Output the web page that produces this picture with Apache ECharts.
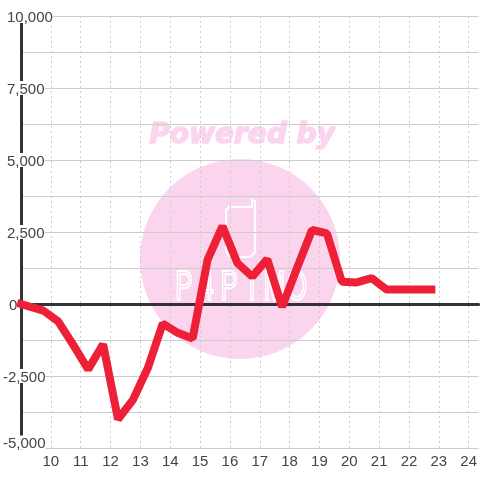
<!DOCTYPE html>
<html>
<head>
<meta charset="utf-8">
<style>
  html, body { margin: 0; padding: 0; background: #fff; }
  #main { width: 480px; height: 480px; }
</style>
<script src="https://cdn.jsdelivr.net/npm/echarts@6/dist/echarts.min.js"></script>
</head>
<body>
<div id="main"></div>
<script>
const hours = [9, 9.75, 10.25, 10.75, 11.25, 11.75, 12.25, 12.75, 13.25, 13.75, 14.25, 14.75, 15.25, 15.75,
  16.25, 16.75, 17.25, 17.75, 18.25, 18.75, 19.25, 19.75, 20.25, 20.75, 21.25, 21.75, 22.25, 22.75];
const values = [0, -230, -610, -1420, -2270, -1400, -4000, -3330, -2220, -680, -1000, -1200, 1530, 2700,
  1420, 950, 1560, -100, 1250, 2570, 2450, 775, 750, 900, 500, 500, 500, 500];

const logoLetters = ["P", "4", "P", "i", "M", "O"];
const pink = "#fbd5ee";

const chartDom = document.getElementById("main");
const myChart = echarts.init(chartDom);

const watermark = [
  { type: "circle", z: -10, shape: { cx: 240, cy: 259, r: 100 }, style: { fill: pink } },
  {
    type: "text", z: -10, x: 242, y: 136,
    style: {
      text: "Powered by", fill: pink, stroke: pink, lineWidth: 1.5, align: "center", verticalAlign: "middle",
      font: "italic bold 28px 'DejaVu Sans'",
    },
  },
  {
    type: "polyline", z: -9,
    shape: { points: [[253, 207], [229, 207], [226, 210], [226, 252], [230, 257], [250, 257], [255, 252], [255, 201], [252, 200], [252, 207]] },
    style: { stroke: "#fff", fill: null, lineWidth: 2 },
  },
].concat(logoLetters.map((letter, i) => ({
  type: "text", z: -9, x: 184 + i * 22.6, y: 288, scaleX: 0.62,
  style: {
    text: letter, fill: "transparent", stroke: "#fff", lineWidth: 2.2, align: "center", verticalAlign: "middle",
    font: "42px 'Liberation Sans'",
  },
})));

const labelStyle = {
  fontFamily: "Liberation Sans", fontSize: 15, color: "#444", backgroundColor: "#fff", height: 11, lineHeight: 11,
};

const option = {
  animation: false,
  backgroundColor: "#fff",
  graphic: watermark,
  grid: { left: 20, right: 0, top: 16, bottom: 32 },
  xAxis: [
    {
      type: "value",
      min: 9,
      max: 24.33,
      interval: 1,
      axisLine: { show: false, onZero: false },
      axisTick: { show: false },
      axisLabel: {
        showMinLabel: false,
        showMaxLabel: false,
        margin: 6,
        fontFamily: "Liberation Sans",
        fontSize: 15,
        color: "#444",
      },
      splitLine: {
        showMinLine: false,
        showMaxLine: false,
        lineStyle: { color: "#ccc", width: 1, type: [2, 3] },
      },
    },
    {
      // dark line at zero
      type: "value",
      min: 9,
      max: 24.33,
      axisLine: { show: true, onZero: true, lineStyle: { color: "#333", width: 3 } },
      axisTick: { show: false },
      axisLabel: { show: false },
      splitLine: { show: false },
    },
  ],
  yAxis: {
    type: "value",
    min: -5000,
    max: 10000,
    interval: 1250,
    axisLine: { show: true, onZero: false, lineStyle: { color: "#333", width: 3 } },
    axisTick: { show: false },
    axisLabel: {
      align: "left",
      margin: 18,
      verticalAlignMinLabel: "bottom",
      formatter: function (v) {
        if (v % 2500 !== 0) return "";
        const text = echarts.format.addCommas(v);
        const style = v < 0 ? "neg" : v === 0 ? "zero" : "pos";
        return "{" + style + "|" + text + "}";
      },
      rich: {
        neg: { ...labelStyle, padding: [3, 0, 0, 0] },
        zero: { ...labelStyle, padding: [3, 0, 0, 6] },
        pos: { ...labelStyle, padding: [3, 0, 0, 4] },
      },
    },
    splitLine: { lineStyle: { color: "#ccc", width: 1 } },
  },
  series: [
    {
      type: "line",
      data: hours.map((h, i) => [h, values[i]]),
      showSymbol: false,
      clip: false,
      lineStyle: { color: "#ee2038", width: 8, cap: "square", join: "bevel" },
    },
  ],
};

myChart.setOption(option);
</script>
</body>
</html>
